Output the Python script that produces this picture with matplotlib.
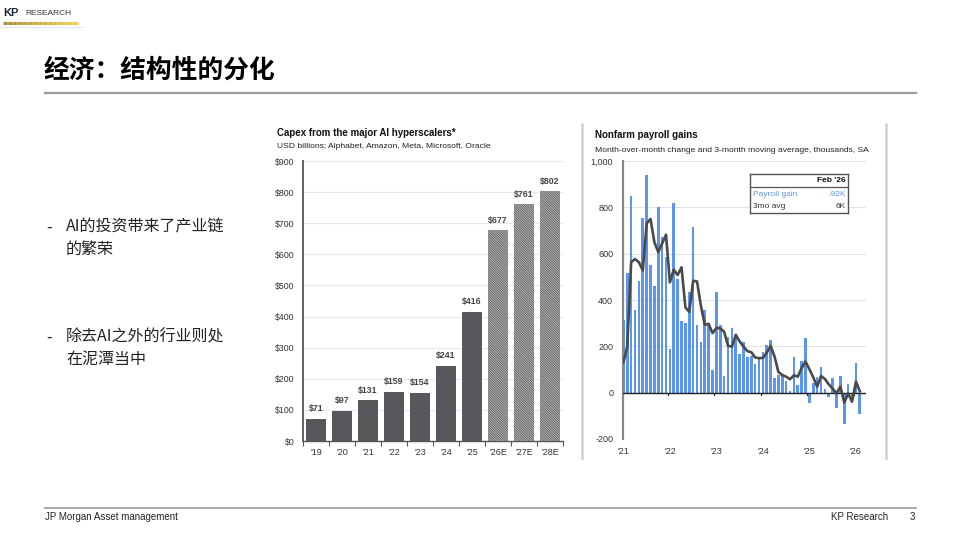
import matplotlib
matplotlib.use("Agg")
import matplotlib.pyplot as plt
from matplotlib.lines import Line2D
import numpy as np

# ---------------- data ----------------
capex_years = ["'19", "'20", "'21", "'22", "'23", "'24", "'25", "'26E", "'27E", "'28E"]
capex_values = [71, 97, 131, 159, 154, 241, 416, 677, 761, 802]
capex_estimate = [False, False, False, False, False, False, False, True, True, True]

payroll_gain = [315, 517, 850, 355, 480, 755, 940, 550, 460, 800, 670, 585,
                190, 820, 490, 310, 300, 435, 715, 290, 220, 358, 300, 100,
                435, 290, 70, 240, 280, 240, 165, 220, 155, 160, 125, 145,
                175, 205, 228, 62, 76, 72, 52, 7, 156, 33, 137, 235,
                -46, 40, 66, 110, 14, -20, 62, -68, 74, -137, 39, -17,
                127, -92]
payroll_3mo = [130, 200, 563, 577, 563, 528, 730, 750, 649, 607, 644, 682,
               476, 531, 508, 541, 368, 349, 483, 480, 375, 293, 297, 257,
               280, 277, 263, 202, 199, 250, 221, 199, 179, 175, 152, 149,
               150, 173, 202, 156, 89, 76, 69, 58, 75, 69, 107, 134,
               101, 66, 26, 72, 59, 36, 17, -3, 26, -43, -3, -39,
               48, 6]
payroll_year_labels = ["'21", "'22", "'23", "'24", "'25", "'26"]
payroll_yticks = [-200, 0, 200, 400, 600, 800, 1000]

CJK = ['Noto Sans CJK SC', 'DejaVu Sans']
LAT = ['Liberation Sans', 'DejaVu Sans']

W, H = 960, 540
plt.rcParams['hatch.linewidth'] = 0.9
fig = plt.figure(figsize=(9.6, 5.4), dpi=100)
fig.patch.set_facecolor('white')


def fx(x):
    return x / W


def fy(y):
    return 1 - y / H


def rect(x0, y0, x1, y1):
    return [fx(x0), fy(y1), (x1 - x0) / W, (y1 - y0) / H]


# ---------------- header / logo ----------------
fig.text(fx(3), fy(13), "KP", fontsize=8, fontweight='bold', color='#1b2a3a',
         family=LAT, va='center', ha='left')
fig.text(fx(25), fy(13.5), "RESEARCH", fontsize=6, color='#333333',
         family=LAT, va='center', ha='left')
n = 60
xs = np.linspace(3, 78, n + 1)
for i in range(n):
    t = i / n
    col = (0.62 + 0.33 * t, 0.50 + 0.30 * t, 0.12 + 0.05 * t)
    fig.add_artist(Line2D([fx(xs[i]), fx(xs[i + 1])], [fy(22.5), fy(22.5)],
                          color=col, lw=2.2, solid_capstyle='butt'))
fig.add_artist(Line2D([fx(0), fx(82)], [fy(27), fy(27)], color='#e6e6e6', lw=0.8))

fig.text(fx(44), fy(70), "经济：结构性的分化", fontsize=18.5, fontweight='bold',
         family=CJK, color='black', va='center', ha='left')
fig.add_artist(Line2D([fx(45), fx(916)], [fy(93), fy(93)], color='#9a9a9a', lw=1.6))

# bullets
bullets = [(227, "AI的投资带来了产业链"), (249, "的繁荣"),
           (337, "除去AI之外的行业则处"), (359, "在泥潭当中")]
for y, s in bullets:
    fig.text(fx(66), fy(y), s, fontsize=11.5, family=CJK, color='#222222',
             va='center', ha='left')
for y in (227, 337):
    fig.text(fx(46), fy(y), "-", fontsize=11.5, family=CJK, color='#222222',
             va='center', ha='left')

# footer
fig.add_artist(Line2D([fx(45), fx(916)], [fy(508), fy(508)], color='#9a9a9a', lw=1.2))
fig.text(fx(45), fy(517.5), "JP Morgan Asset management", fontsize=7, family=LAT,
         color='#222222', va='center', ha='left')
fig.text(fx(888), fy(517.5), "KP Research", fontsize=7, family=LAT,
         color='#222222', va='center', ha='right')
fig.text(fx(915), fy(517.5), "3", fontsize=7, family=LAT,
         color='#222222', va='center', ha='right')

# panel separators
fig.add_artist(Line2D([fx(582), fx(582)], [fy(124), fy(458)], color='#d0d0d0', lw=1.8))
fig.add_artist(Line2D([fx(886), fx(886)], [fy(124), fy(458)], color='#d0d0d0', lw=1.8))

# ---------------- left chart: capex ----------------
fig.text(fx(277), fy(133), "Capex from the major AI hyperscalers*", fontsize=7,
         fontweight='bold', family=LAT, color='#111111', va='center', ha='left')
fig.text(fx(277), fy(146), "USD billions; Alphabet, Amazon, Meta, Microsoft, Oracle",
         fontsize=6.1, family=LAT, color='#222222', va='center', ha='left')

ax1 = fig.add_axes(rect(303, 161, 563, 441))
x = np.arange(len(capex_years))
for xi, v, est in zip(x, capex_values, capex_estimate):
    if est:
        ax1.bar(xi, v, width=0.8, facecolor='#f4f4f4', edgecolor='#6a6a6a',
                hatch='\\' * 14, linewidth=0, zorder=3)
    else:
        ax1.bar(xi, v, width=0.8, color='#56585b', linewidth=0, zorder=3)
    ax1.text(xi, v + 18, f"${v}", ha='center', va='bottom', fontsize=6.3,
             fontweight='bold', family=LAT, color='#444444')

ax1.set_xlim(-0.5, len(capex_years) - 0.5)
ax1.set_ylim(0, 900)
ax1.set_yticks(np.arange(0, 901, 100))
ax1.set_yticklabels([f"${v}" for v in range(0, 901, 100)], fontsize=6.3,
                    family=LAT, color='#333333')
ax1.set_xticks(x)
ax1.set_xticklabels(capex_years, fontsize=6.5, family=LAT, color='#333333')
ax1.set_xticks(np.arange(-0.5, len(capex_years), 1), minor=True)
ax1.tick_params(axis='x', which='major', length=0, pad=5)
ax1.tick_params(axis='x', which='minor', length=3.5, width=0.8, color='#555555',
                direction='out')
ax1.tick_params(axis='y', length=0, pad=6)
ax1.grid(axis='y', color='#e8e8e8', lw=0.8, zorder=0)
for s in ('top', 'right'):
    ax1.spines[s].set_visible(False)
ax1.spines['left'].set_color('#555555')
ax1.spines['left'].set_linewidth(1.3)
ax1.spines['bottom'].set_color('#555555')
ax1.spines['bottom'].set_linewidth(1.0)
ax1.set_facecolor('white')

# ---------------- right chart: payroll ----------------
fig.text(fx(595), fy(135), "Nonfarm payroll gains", fontsize=7, fontweight='bold',
         family=LAT, color='#111111', va='center', ha='left')
fig.text(fx(595), fy(150),
         "Month-over-month change and 3-month moving average, thousands, SA",
         fontsize=6.1, family=LAT, color='#222222', va='center', ha='left')

ax2 = fig.add_axes(rect(623, 161, 866, 439))
m = np.arange(len(payroll_gain))
ax2.bar(m, payroll_gain, width=0.68, color='#5b95ee', linewidth=0, zorder=2)
ax2.plot(m, payroll_3mo, color='#4a4a4a', lw=1.9, zorder=4, solid_joinstyle='round')
ax2.axhline(0, color='#222222', lw=1.0, zorder=3)
ax2.set_xlim(-0.1, 62.6)
ax2.set_ylim(-200, 1000)
ax2.set_yticks(payroll_yticks)
ax2.set_yticklabels([f"{v:,}" for v in payroll_yticks], fontsize=6.5, family=LAT,
                    color='#333333')
ax2.tick_params(axis='y', length=0, pad=7)
ax2.set_xticks([0, 12, 24, 36, 48, 60])
ax2.set_xticklabels(payroll_year_labels, fontsize=6.5, family=LAT, color='#333333')
ax2.tick_params(axis='x', length=0, pad=6)
for t in [12, 24, 36, 48, 60]:
    ax2.plot([t - 0.5, t - 0.5], [0, -12], color='#222222', lw=0.8, zorder=3,
             clip_on=False)
ax2.grid(axis='y', color='#e3e3e3', lw=0.8, zorder=0)
for s in ('top', 'right', 'bottom'):
    ax2.spines[s].set_visible(False)
ax2.spines['left'].set_color('#8a8a8a')
ax2.spines['left'].set_linewidth(1.6)

# inset table
tx0, ty0, tx1, ty1 = 750, 174, 848, 213
ax_t = fig.add_axes(rect(tx0, ty0, tx1, ty1))
ax_t.set_xlim(tx0, tx1)
ax_t.set_ylim(ty1, ty0)
ax_t.set_facecolor('white')
for s in ax_t.spines.values():
    s.set_color('#555555')
    s.set_linewidth(1.0)
ax_t.set_xticks([])
ax_t.set_yticks([])
ax_t.plot([tx0, tx1], [187.5, 187.5], color='#555555', lw=0.9)
ax_t.text(846, 181, "Feb '26", fontsize=6, fontweight='bold', family=LAT,
          color='#111111', ha='right', va='center')
ax_t.text(753, 195, "Payroll gain", fontsize=6, family=LAT, color='#5b95ee',
          ha='left', va='center')
ax_t.text(846, 195, "-92K", fontsize=6, family=LAT, color='#5b95ee',
          ha='right', va='center')
ax_t.text(753, 207, "3mo avg", fontsize=6, family=LAT, color='#333333',
          ha='left', va='center')
ax_t.text(846, 207, "6K", fontsize=6, family=LAT, color='#333333',
          ha='right', va='center')

fig.savefig("out.png", dpi=100, facecolor='white')
